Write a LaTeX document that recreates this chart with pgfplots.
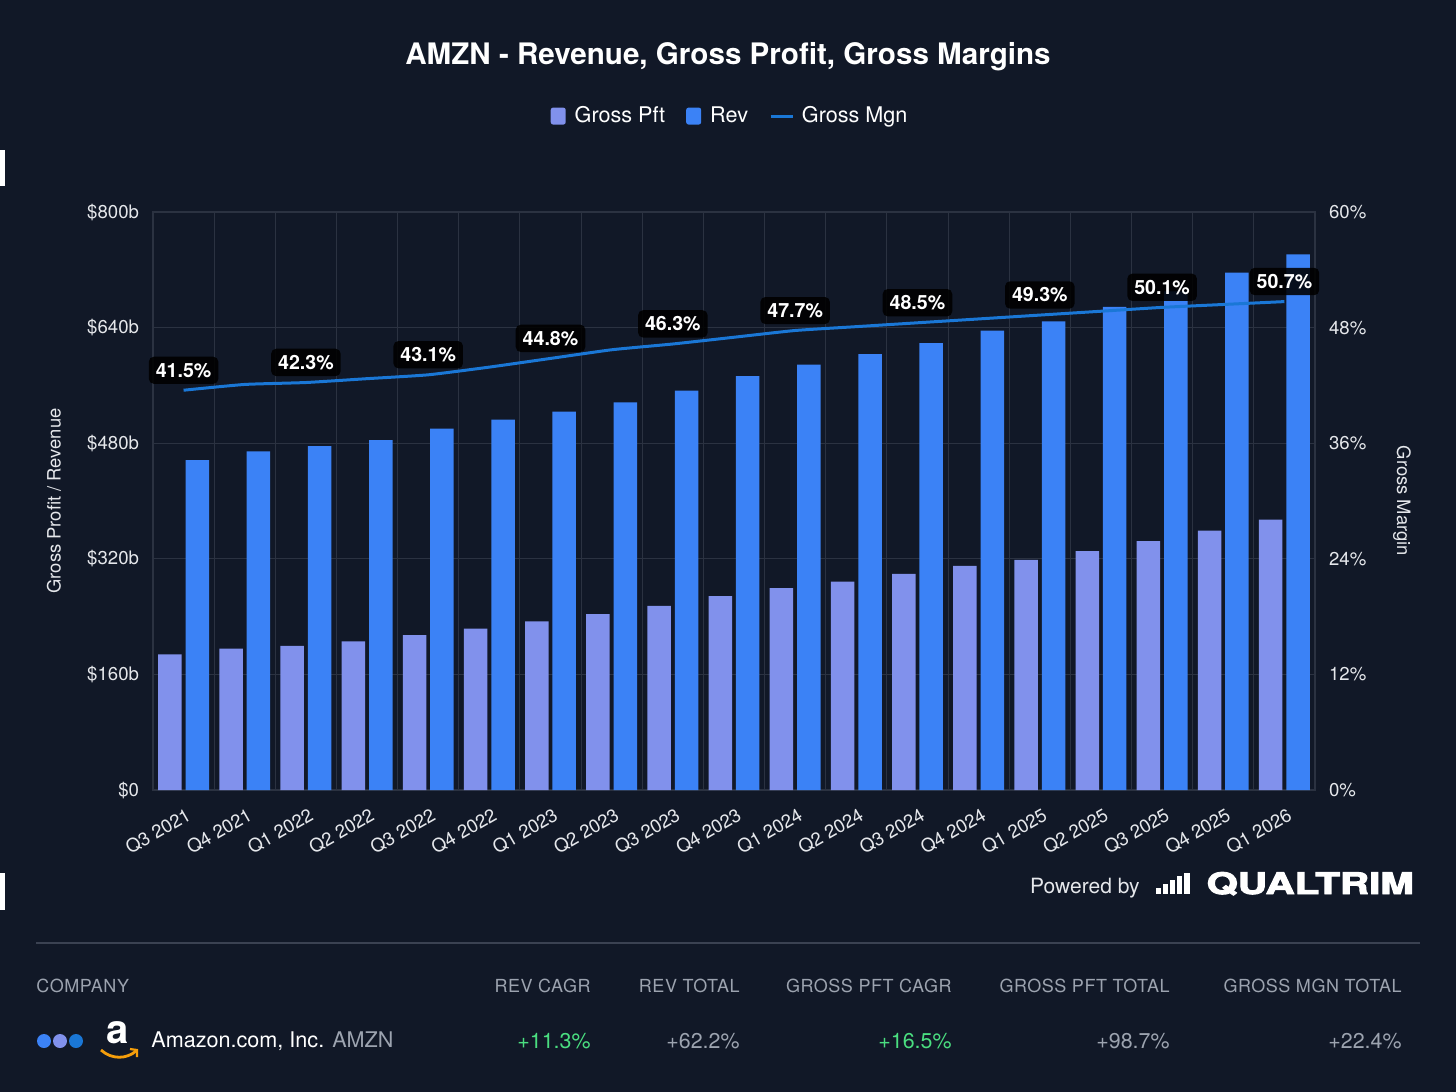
\documentclass[border=0pt]{standalone}
\usepackage{fontspec}
\setmainfont{TeX Gyre Heros}
\newfontfamily\qfont[BoldFeatures={FakeBold=3}]{TeX Gyre Heros}
\newfontfamily\hdrfont[LetterSpace=3]{TeX Gyre Heros}
\usepackage{pgfplots}
\pgfplotsset{compat=1.18}
\definecolor{bgc}{HTML}{111827}
\definecolor{gridc}{HTML}{2B3241}
\definecolor{gpc}{HTML}{8191EC}
\definecolor{revc}{HTML}{3B82F6}
\definecolor{linec}{HTML}{1A77D6}
\definecolor{tickc}{HTML}{E5E7EB}
\definecolor{hdrc}{HTML}{9CA3AF}
\definecolor{grnc}{HTML}{4ADE80}
\definecolor{sepc}{HTML}{3B4252}
\definecolor{amzo}{HTML}{F59E0B}
\begin{document}
\begin{tikzpicture}
\path[use as bounding box, fill=bgc] (0,0) rectangle (728pt,-546pt);
\begin{axis}[
  at={(76.5pt,-395pt)}, anchor=south west,
  scale only axis, width=581pt, height=289pt,
  xmin=-0.5, xmax=18.5, ymin=0, ymax=800,
  xtick={0,...,18},
  xticklabels={Q3 2021,Q4 2021,Q1 2022,Q2 2022,Q3 2022,Q4 2022,Q1 2023,Q2 2023,Q3 2023,Q4 2023,Q1 2024,Q2 2024,Q3 2024,Q4 2024,Q1 2025,Q2 2025,Q3 2025,Q4 2025,Q1 2026},
  minor xtick={-0.5,0.5,...,18.5},
  xminorgrids=true, ymajorgrids=true,
  ytick={0,160,...,800},
  yticklabels={\$0,\$160b,\$320b,\$480b,\$640b,\$800b},
  major tick length=0pt, minor tick length=0pt,
  grid style={gridc, line width=0.5pt},
  minor grid style={gridc, line width=0.5pt},
  axis line style={gridc, line width=0.6pt},
  tick label style={font=\fontsize{9.3}{11}\selectfont, text=tickc},
  xticklabel style={rotate=30, anchor=east, yshift=-11.5pt, xshift=0pt},
  yticklabel style={xshift=-3.5pt},
  legend style={at={(0.4975,1.166)}, anchor=center, draw=none, fill=none,
    text=white, font=\fontsize{10.8}{13}\selectfont, legend columns=3,
    /tikz/every even column/.append style={column sep=8.5pt}},
  legend cell align=left,
]
\addplot[ybar, bar width=11.75pt, bar shift=-6.85pt, fill=gpc, draw=none,
  legend image code/.code={\fill[gpc, rounded corners=1.2pt] (0pt,-4.25pt) rectangle (7.5pt,4.25pt); \path (10pt,0pt);}]
  coordinates {(0,187.8) (1,195.8) (2,199.6) (3,205.8) (4,214.4) (5,223.4) (6,233.4) (7,243.5) (8,254.7) (9,268.5) (10,279.6) (11,288.6) (12,299.1) (13,310.2) (14,318.4) (15,330.8) (16,344.6) (17,358.9) (18,374.2)};
\addlegendentry{Gross Pft}
\addplot[ybar, bar width=11.75pt, bar shift=6.85pt, fill=revc, draw=none,
  legend image code/.code={\fill[revc, rounded corners=1.2pt] (0pt,-4.25pt) rectangle (7.5pt,4.25pt); \path (10pt,0pt);}]
  coordinates {(0,456.5) (1,468.6) (2,476.0) (3,484.4) (4,500.3) (5,512.5) (6,523.7) (7,536.5) (8,552.8) (9,573.0) (10,588.8) (11,603.2) (12,618.5) (13,636.0) (14,648.7) (15,668.8) (16,690.0) (17,716.0) (18,741.4)};
\addlegendentry{Rev}
\addlegendimage{legend image code/.code={\draw[linec, line width=1.5pt] (0pt,0pt) -- (11pt,0pt); \path (13.5pt,0pt);}}
\addlegendentry{Gross Mgn}
\end{axis}
\begin{axis}[
  at={(76.5pt,-395pt)}, anchor=south west,
  scale only axis, width=581pt, height=289pt,
  xmin=-0.5, xmax=18.5, ymin=0, ymax=60,
  axis x line=none, axis y line*=right,
  ytick={0,12,...,60},
  yticklabels={0\%,12\%,24\%,36\%,48\%,60\%},
  major tick length=0pt,
  axis line style={gridc, line width=0.6pt},
  tick label style={font=\fontsize{9.3}{11}\selectfont, text=tickc},
  yticklabel style={xshift=3.5pt},
  clip=false,
]
\addplot[linec, line width=1.5pt, smooth, tension=0.3, mark=none]
  coordinates {(0,41.5) (1,42.1) (2,42.3) (3,42.7) (4,43.1) (5,43.9) (6,44.8) (7,45.7) (8,46.3) (9,47.0) (10,47.7) (11,48.1) (12,48.5) (13,48.9) (14,49.3) (15,49.7) (16,50.1) (17,50.4) (18,50.7)};
\addplot[draw=none, mark=none, nodes near coords, point meta=explicit symbolic,
  every node near coord/.append style={anchor=south, yshift=3pt, fill=black, fill opacity=0.88, text opacity=1, text=white, rounded corners=2.5pt, inner xsep=3.5pt, inner ysep=3.2pt, font=\bfseries\fontsize{9.8}{11}\selectfont}]
  coordinates {(0,41.5)[41.5\%] (2,42.3)[42.3\%] (4,43.1)[43.1\%] (6,44.8)[44.8\%] (8,46.3)[46.3\%] (10,47.7)[47.7\%] (12,48.5)[48.5\%] (14,49.3)[49.3\%] (16,50.1)[50.1\%] (18,50.7)[50.7\%]};
\end{axis}
\begin{scope}[x=0.5pt, y=-0.5pt]
  \node[text=white, font=\bfseries\fontsize{14.8}{17}\selectfont] at (728,57) {AMZN - Revenue, Gross Profit, Gross Margins};
  \node[text=tickc, rotate=90, font=\fontsize{9.2}{11}\selectfont] at (54,501) {Gross Profit / Revenue};
  \node[text=tickc, rotate=-90, font=\fontsize{9.2}{11}\selectfont] at (1402,501) {Gross Margin};
  % edge marks
  \fill[white] (0,150) rectangle (5,186);
  \fill[white] (0,873) rectangle (5,910);
  % footer
  \node[anchor=base east, text=tickc, font=\fontsize{10.5}{12}\selectfont, inner sep=0pt] at (1140,893) {Powered by};
  \fill[white] (1156,888) rectangle (1161,894);
  \fill[white] (1163,884) rectangle (1168,894);
  \fill[white] (1170,880) rectangle (1175,894);
  \fill[white] (1177,876) rectangle (1182,894);
  \fill[white] (1184,873) rectangle (1190,894);
  \node[anchor=base west, text=white, font=\qfont\bfseries\fontsize{14.8}{17}\selectfont, inner sep=0pt, xscale=1.36] at (1206,894) {QUALTRIM};
  \draw[sepc, line width=1pt] (36,943) -- (1420,943);
  % table header
  \begin{scope}[every node/.style={text=hdrc, font=\hdrfont\fontsize{9}{11}\selectfont, inner sep=0pt}]
    \node[anchor=west] at (36,986) {COMPANY};
    \node[anchor=east] at (591,986) {REV CAGR};
    \node[anchor=east] at (740,986) {REV TOTAL};
    \node[anchor=east] at (952,986) {GROSS PFT CAGR};
    \node[anchor=east] at (1170,986) {GROSS PFT TOTAL};
    \node[anchor=east] at (1402,986) {GROSS MGN TOTAL};
  \end{scope}
  % row
  \fill[revc] (44,1041) circle (7);
  \fill[gpc] (60,1041) circle (7);
  \fill[linec] (76,1041) circle (7);
  \node[text=white, font=\bfseries\fontsize{20}{22}\selectfont, inner sep=0pt] at (118,1033) {a};
  \draw[amzo, line width=1.4pt] (101,1050) .. controls (112,1060) and (127,1059) .. (136,1051);
  \draw[amzo, line width=1.1pt] (130,1049) -- (137,1050) -- (137,1057);
  \node[anchor=west, text=white, font=\fontsize{10.8}{12}\selectfont, inner sep=0pt] at (151,1041) {Amazon.com, Inc. \textcolor{hdrc}{AMZN}};
  \begin{scope}[every node/.style={font=\fontsize{10.7}{12}\selectfont, inner sep=0pt, anchor=east}]
    \node[text=grnc] at (591,1041) {+11.3\%};
    \node[text=hdrc] at (740,1041) {+62.2\%};
    \node[text=grnc] at (952,1041) {+16.5\%};
    \node[text=hdrc] at (1170,1041) {+98.7\%};
    \node[text=hdrc] at (1402,1041) {+22.4\%};
  \end{scope}
\end{scope}
\end{tikzpicture}
\end{document}
